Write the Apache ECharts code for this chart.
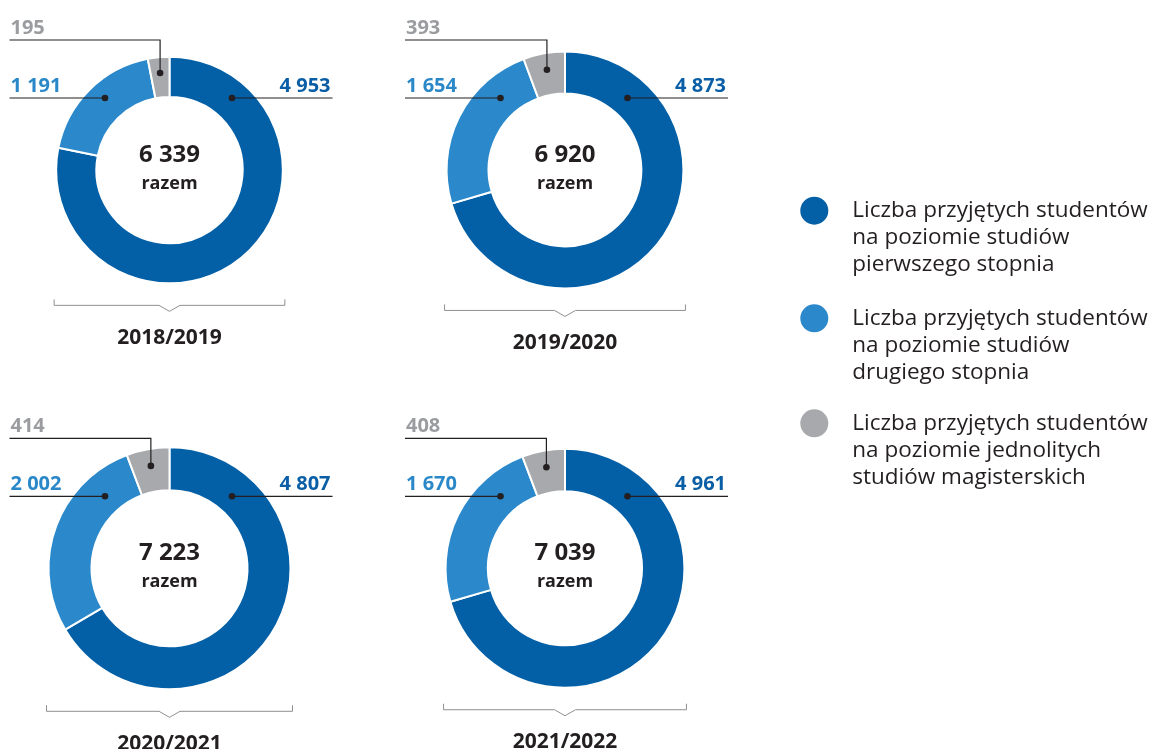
<!DOCTYPE html>
<html>
<head>
<meta charset="utf-8">
<script src="https://cdn.jsdelivr.net/npm/echarts@6/dist/echarts.min.js"></script>
<style>
  html, body { margin: 0; padding: 0; background: #fff; }
  #chart { width: 1157px; height: 749px; }
</style>
</head>
<body>
<div id="chart"></div>
<script>
// data
const years = ['2018/2019', '2019/2020', '2020/2021', '2021/2022'];
const firstDegree = [4953, 4873, 4807, 4961];
const secondDegree = [1191, 1654, 2002, 1670];
const longCycle = [195, 393, 414, 408];
const totals = [6339, 6920, 7223, 7039];
const totalLabel = 'razem';
const legendLines = [
  ['Liczba przyjętych studentów', 'na poziomie studiów', 'pierwszego stopnia'],
  ['Liczba przyjętych studentów', 'na poziomie studiów', 'drugiego stopnia'],
  ['Liczba przyjętych studentów', 'na poziomie jednolitych', 'studiów magisterskich']
];

const colors = ['#035fa6', '#2b89cb', '#a7a9ac'];
const labelColors = ['#0a5ea5', '#2a88c9', '#9a9c9f'];
const ink = '#231f20';
const fontFamily = 'Open Sans';

const chartDom = document.getElementById('chart');
const myChart = echarts.init(chartDom);

const fmt = v => String(v).replace(/\B(?=(\d{3})+(?!\d))/g, ' ');
const names = legendLines.map(l => l.join('\n'));

// layout: donut area scales with the total
const centers = [[169.5, 170], [565, 170], [169.5, 568.3], [565, 568.3]];
const maxTotal = Math.max(...totals);
const radii = totals.map(t => 121 * Math.sqrt(t / maxTotal));
const innerRatio = 0.645;

const geom = years.map((y, i) => {
  const [cx, cy] = centers[i];
  const R = radii[i];
  const ly = cy - 72;       // dark/light leader line
  const gy = cy - 130;      // grey leader line
  const mid = (360 - 180 * longCycle[i] / totals[i]) * Math.PI / 180;
  const gr = 0.86 * R;
  const gx = cx + gr * Math.sin(mid);
  const gdy = cy - gr * Math.cos(mid);
  const dots = [[cx + 62.5, ly], [cx - 64.5, ly], [gx, gdy]];
  return {
    cx, cy, R, ly, gy, dots,
    lines: [
      [dots[0], [cx + 163, ly]],
      [dots[1], [cx - 160, ly]],
      [dots[2], [gx, gy], [cx - 160, gy]]
    ]
  };
});

const labelLayoutFor = i => params => {
  const g = geom[i];
  const d = params.dataIndex;
  if (d === 0) {
    return { x: g.cx + 161, y: g.ly - 2, align: 'right', verticalAlign: 'bottom' };
  }
  if (d === 1) {
    return { x: g.cx - 159, y: g.ly - 2, align: 'left', verticalAlign: 'bottom' };
  }
  return { x: g.cx - 159, y: g.gy - 2, align: 'left', verticalAlign: 'bottom' };
};

const series = years.map((y, i) => ({
  type: 'pie',
  center: centers[i],
  radius: [radii[i] * innerRatio, radii[i]],
  startAngle: 90,
  clockwise: true,
  silent: true,
  animation: false,
  avoidLabelOverlap: false,
  itemStyle: { borderColor: '#fff', borderWidth: 2 },
  label: {
    show: true,
    position: 'outside',
    formatter: p => fmt(p.value),
    fontFamily: fontFamily,
    fontWeight: 'bold',
    fontSize: 20
  },
  labelLine: { show: false },
  labelLayout: labelLayoutFor(i),
  data: [firstDegree[i], secondDegree[i], longCycle[i]].map((v, k) => ({
    name: names[k],
    value: v,
    itemStyle: { color: colors[k] },
    label: { color: labelColors[k] }
  }))
}));

const graphics = [];
geom.forEach((g, i) => {
  g.lines.forEach(pts => {
    graphics.push({
      type: 'polyline', silent: true, z: 100,
      shape: { points: pts },
      style: { stroke: ink, lineWidth: 1.2, fill: null }
    });
  });
  g.dots.forEach(p => {
    graphics.push({
      type: 'circle', silent: true, z: 101,
      shape: { cx: p[0], cy: p[1], r: 3.3 },
      style: { fill: ink }
    });
  });
  // total in the middle
  graphics.push({
    type: 'text', silent: true, x: g.cx, y: g.cy - 15,
    style: { text: fmt(totals[i]), fill: ink, font: 'bold 24px "Open Sans"', align: 'center', verticalAlign: 'middle' }
  });
  graphics.push({
    type: 'text', silent: true, x: g.cx, y: g.cy + 13.5,
    style: { text: totalLabel, fill: ink, font: 'bold 18px "Open Sans"', align: 'center', verticalAlign: 'middle' }
  });
  // bracket under the donut
  const by = g.cy + g.R + 22;
  const l = g.cx - g.R - 2, r = g.cx + g.R + 2;
  graphics.push({
    type: 'polyline', silent: true,
    shape: { points: [[l, by - 6], [l, by], [g.cx - 10.5, by], [g.cx, by + 6], [g.cx + 10.5, by], [r, by], [r, by - 6]] },
    style: { stroke: '#8d8f91', lineWidth: 1, fill: null }
  });
  graphics.push({
    type: 'text', silent: true, x: g.cx, y: by + 32.5,
    style: { text: years[i], fill: ink, font: 'bold 21px "Open Sans"', align: 'center', verticalAlign: 'middle' }
  });
});

const legendIconY = [210.7, 318.3, 423.3];
const legend = names.map((n, k) => ({
  data: [n],
  left: 798.3,
  top: legendIconY[k] - 67.5,
  padding: 0,
  icon: 'circle',
  itemWidth: 30,
  itemHeight: 30,
  selectedMode: false,
  formatter: name => '\n\n' + name,
  textStyle: {
    fontFamily: fontFamily,
    fontSize: 22.5,
    lineHeight: 27,
    color: ink,
    padding: [0, 0, 0, 18]
  }
}));

const option = {
  animation: false,
  textStyle: { fontFamily: fontFamily },
  legend: legend,
  series: series,
  graphic: graphics
};

myChart.setOption(option);
</script>
</body>
</html>
